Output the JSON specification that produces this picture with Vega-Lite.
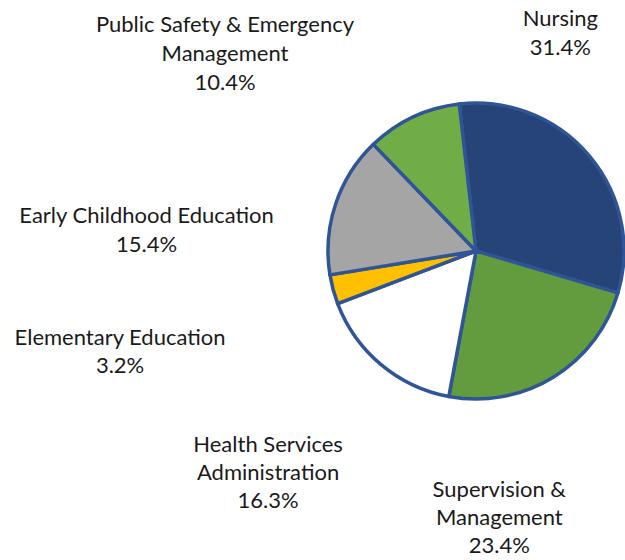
{
  "$schema": "https://vega.github.io/schema/vega-lite/v6.json",
  "autosize": {"type": "none"},
  "width": 296,
  "height": 296,
  "padding": {"left": 328, "top": 103, "right": 1, "bottom": 161},
  "background": "white",
  "config": {"view": {"stroke": null}},
  "data": {
    "values": [
      {"ord": 1, "name": "Nursing", "value": 31.4},
      {"ord": 2, "name": "Supervision &\nManagement", "value": 23.4},
      {"ord": 3, "name": "Health Services\nAdministration", "value": 16.3},
      {"ord": 4, "name": "Elementary Education", "value": 3.2},
      {"ord": 5, "name": "Early Childhood Education", "value": 15.4},
      {"ord": 6, "name": "Public Safety & Emergency\nManagement", "value": 10.4}
    ]
  },
  "transform": [
    {"stack": "value", "groupby": [], "sort": [{"field": "ord", "order": "ascending"}], "as": ["v0", "v1"]},
    {"calculate": "(datum.v0 + datum.v1) / 2", "as": "mid"},
    {"calculate": "split(datum.name + '\\n' + format(datum.value, '.1f') + '%', '\\n')", "as": "label"}
  ],
  "encoding": {
    "theta": {"field": "v0", "type": "quantitative", "stack": null, "scale": {"domain": [0, 100.1], "range": [-0.1134, 6.1698], "zero": true}}
  },
  "layer": [
    {
      "mark": {"type": "arc", "radius": 148, "stroke": "#2F5597", "strokeWidth": 3.5, "strokeJoin": "round"},
      "encoding": {
        "theta2": {"field": "v1"},
        "color": {"field": "ord", "type": "nominal", "legend": null,
          "scale": {"domain": [1, 2, 3, 4, 5, 6], "range": ["#264478", "#629C3E", "#FFFFFF", "#FFC000", "#A5A5A5", "#70AD47"]}}
      }
    },
    {
      "transform": [{"filter": "datum.ord == 1"}],
      "mark": {"type": "text", "radius": 148, "dx": -29, "dy": -130, "align": "center", "baseline": "alphabetic", "font": "Lato", "fontSize": 22, "lineHeight": 29, "color": "#1a1a1a"},
      "encoding": {"theta": {"field": "mid", "type": "quantitative", "stack": null}, "text": {"field": "label"}}
    },
    {
      "transform": [{"filter": "datum.ord == 2"}],
      "mark": {"type": "text", "radius": 148, "dx": -54, "dy": 120, "align": "center", "baseline": "alphabetic", "font": "Lato", "fontSize": 22, "lineHeight": 28, "color": "#1a1a1a"},
      "encoding": {"theta": {"field": "mid", "type": "quantitative", "stack": null}, "text": {"field": "label"}}
    },
    {
      "transform": [{"filter": "datum.ord == 3"}],
      "mark": {"type": "text", "radius": 148, "dx": -113, "dy": 87, "align": "center", "baseline": "alphabetic", "font": "Lato", "fontSize": 22, "lineHeight": 28, "color": "#1a1a1a"},
      "encoding": {"theta": {"field": "mid", "type": "quantitative", "stack": null}, "text": {"field": "label"}}
    },
    {
      "transform": [{"filter": "datum.ord == 4"}],
      "mark": {"type": "text", "radius": 148, "dx": -213, "dy": 56, "align": "center", "baseline": "alphabetic", "font": "Lato", "fontSize": 22, "lineHeight": 28, "color": "#1a1a1a"},
      "encoding": {"theta": {"field": "mid", "type": "quantitative", "stack": null}, "text": {"field": "label"}}
    },
    {
      "transform": [{"filter": "datum.ord == 5"}],
      "mark": {"type": "text", "radius": 148, "dx": -189, "dy": 19, "align": "center", "baseline": "alphabetic", "font": "Lato", "fontSize": 22, "lineHeight": 29, "color": "#1a1a1a"},
      "encoding": {"theta": {"field": "mid", "type": "quantitative", "stack": null}, "text": {"field": "label"}}
    },
    {
      "transform": [{"filter": "datum.ord == 6"}],
      "mark": {"type": "text", "radius": 148, "dx": -188, "dy": -85, "align": "center", "baseline": "alphabetic", "font": "Lato", "fontSize": 22, "lineHeight": 29, "color": "#1a1a1a"},
      "encoding": {"theta": {"field": "mid", "type": "quantitative", "stack": null}, "text": {"field": "label"}}
    }
  ]
}
